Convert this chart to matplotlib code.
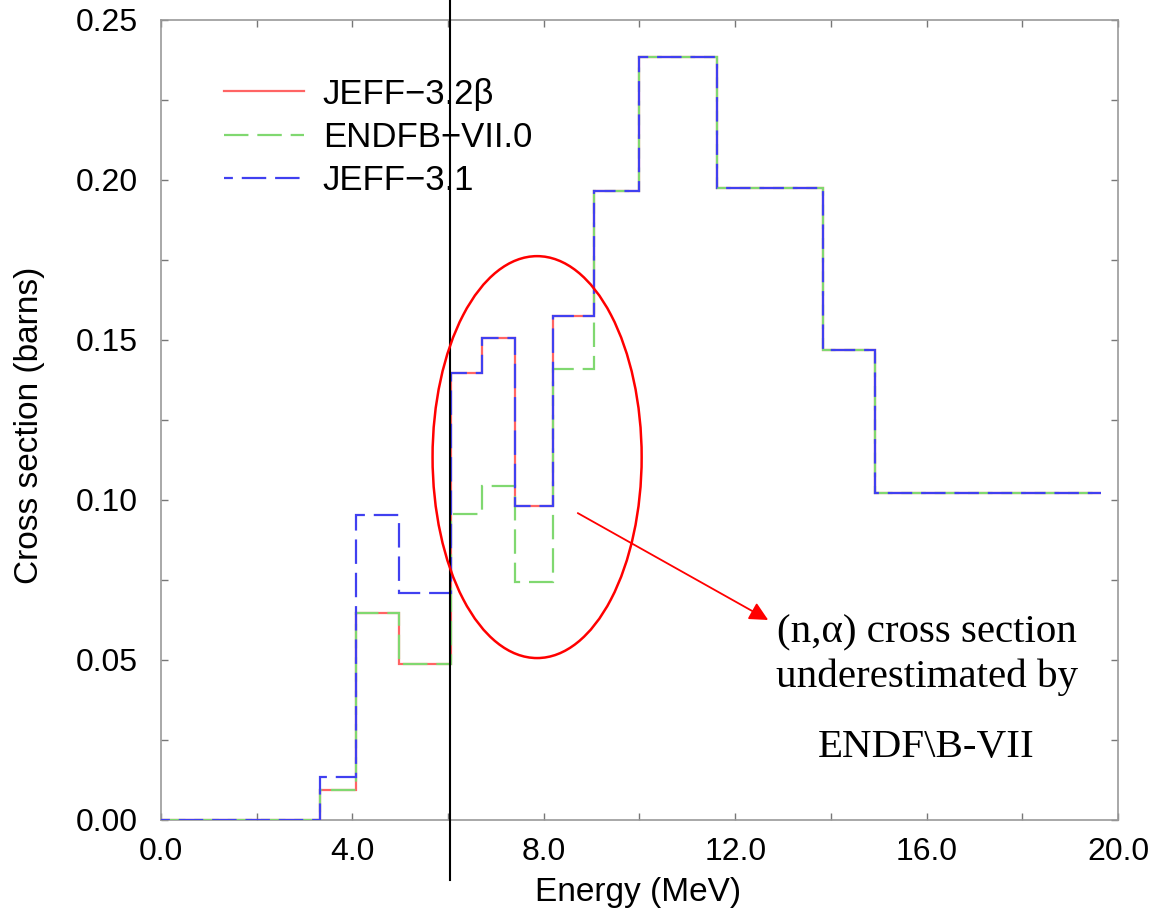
import numpy as np
import matplotlib
matplotlib.use("Agg")
import matplotlib.pyplot as plt
from matplotlib.patches import Ellipse

# group boundaries (MeV) and cross sections (barns)
edges = [0.0, 3.329, 4.066, 4.966, 6.065, 6.703, 7.408, 8.187, 9.048,
         10.0, 11.618, 13.84, 14.918, 19.64]
jeff32 = [0.0, 0.0093, 0.0647, 0.0487, 0.1397, 0.1505, 0.0982, 0.1575,
          0.1966, 0.2384, 0.1975, 0.1469, 0.1022]
endf7 = [0.0, 0.0093, 0.0647, 0.0487, 0.0956, 0.1045, 0.0744, 0.1408,
         0.1966, 0.2384, 0.1975, 0.1469, 0.1022]
jeff31 = [0.0, 0.0134, 0.0953, 0.0709, 0.1397, 0.1505, 0.0982, 0.1575,
          0.1966, 0.2384, 0.1975, 0.1469, 0.1022]
labels = ['JEFF\u22123.2\u03b2', 'ENDFB\u2212VII.0', 'JEFF\u22123.1']

sans = ['Liberation Sans', 'DejaVu Sans']
serif = ['Liberation Serif', 'DejaVu Serif']

fig = plt.figure(figsize=(11.56, 9.17), dpi=100)
ax = fig.add_axes([0.1393, 0.1058, 0.8278, 0.8724])

ax.stairs(jeff32, edges, baseline=None, color='#ff6464', lw=1.6,
          label=labels[0], zorder=3)
ax.stairs(endf7, edges, baseline=None, color='#80d870', lw=1.6,
          linestyle=(0, (11, 4)), label=labels[1], zorder=4)
ax.stairs(jeff31, edges, baseline=None, color='#4040f0', lw=1.6,
          linestyle=(7, (11, 4)), label=labels[2], zorder=5)

ax.set_xlim(0, 20)
ax.set_ylim(0, 0.25)
ax.set_xticks(np.arange(0, 20.1, 4))
ax.set_xticks(np.arange(0, 20.1, 2), minor=True)
ax.set_yticks(np.arange(0, 0.251, 0.05))
ax.set_yticks(np.arange(0, 0.251, 0.025), minor=True)
ax.set_xticklabels([f'{v:.1f}' for v in np.arange(0, 20.1, 4)],
                   family=sans, fontsize=23)
ax.set_yticklabels([f'{v:.2f}' for v in np.arange(0, 0.251, 0.05)],
                   family=sans, fontsize=23)
ax.tick_params(which='both', direction='in', top=True, right=True,
               length=5, width=1, color='#777777')
ax.tick_params(axis='x', pad=12)
ax.tick_params(axis='y', pad=17)
for s in ax.spines.values():
    s.set_color('#999999')
    s.set_linewidth(1.2)

ax.set_xlabel('Energy (MeV)', family=sans, fontsize=24, va='center')
ax.set_ylabel('Cross section (barns)', family=sans, fontsize=24,
              va='center')
ax.xaxis.set_label_coords(0.498, -0.091)
ax.yaxis.set_label_coords(-0.137, 0.493)

ax.legend(loc='upper left', bbox_to_anchor=(0.033, 0.967), frameon=False,
          prop={'family': sans, 'size': 25}, handlelength=2.3,
          handletextpad=0.55, labelspacing=0.3)

# vertical marker line, reaching outside the axes
ax.axvline(6.04, ymin=-0.075, ymax=1.03, color='black', lw=1.5,
           clip_on=False, zorder=6)

ax.add_patch(Ellipse((7.86, 0.1134), 4.37, 0.1256, fill=False,
                     edgecolor='red', lw=1.8, zorder=7))
ax.annotate('', xy=(12.69, 0.0625), xytext=(8.71, 0.0959),
            arrowprops=dict(arrowstyle='-|>', color='red', lw=1.3,
                            mutation_scale=28, shrinkA=0, shrinkB=0))

ax.text(16.0, 0.0584, '(n,\u03b1) cross section', family=serif,
        fontsize=29.5, ha='center', va='center')
ax.text(16.0, 0.0447, 'underestimated by', family=serif, fontsize=29.5,
        ha='center', va='center')
ax.text(16.0, 0.0228, 'ENDF\\B-VII', family=serif, fontsize=29.5,
        ha='center', va='center')

fig.savefig('out.png', dpi=100)
